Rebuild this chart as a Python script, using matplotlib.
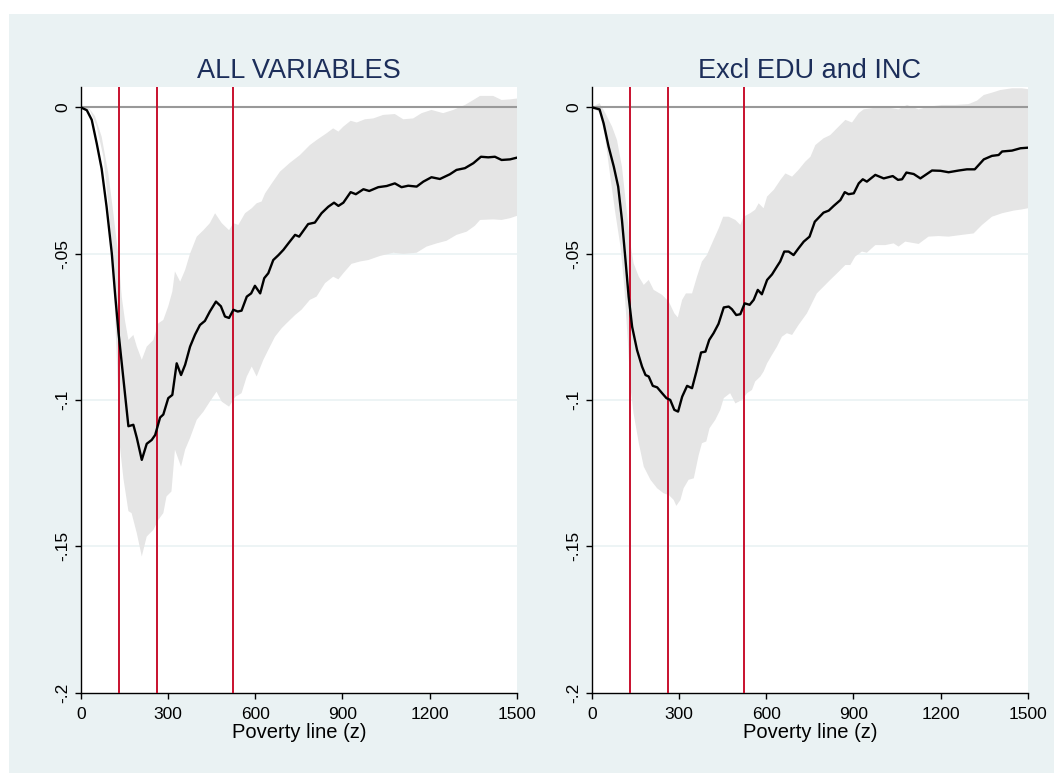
import matplotlib.pyplot as plt
from matplotlib.patches import Rectangle
import numpy as np

plt.rcParams['font.family'] = ['Liberation Sans', 'DejaVu Sans']

# poverty lines marked in red
zlines = [131, 262, 524]

# ---- panel 1: ALL VARIABLES ----
a_x = [0, 21, 38, 55, 72, 89, 107, 118, 130, 147, 164, 181, 193, 210, 227, 244, 256, 273, 284,
       301, 315, 330, 345, 359, 376, 393, 410, 427, 444, 465, 482, 496, 510, 525, 540, 553, 571,
       586, 599, 617, 631, 645, 662, 680, 697, 714, 737, 751, 782, 805, 828, 851, 871, 886, 903,
       928, 946, 972, 992, 1023, 1052, 1080, 1103, 1126, 1155, 1178, 1206, 1235, 1269, 1292,
       1321, 1350, 1376, 1401, 1424, 1447, 1476, 1500]
a_y = [0, -0.001, -0.0043, -0.0123, -0.021, -0.034, -0.050, -0.0636, -0.077, -0.093, -0.109,
       -0.1085, -0.113, -0.1205, -0.115, -0.1137, -0.112, -0.106, -0.105, -0.0994, -0.0983,
       -0.0875, -0.0915, -0.088, -0.0818, -0.0777, -0.0744, -0.073, -0.0698, -0.0664, -0.068,
       -0.0715, -0.072, -0.0692, -0.0698, -0.0695, -0.0647, -0.0636, -0.061, -0.0636, -0.0584,
       -0.0567, -0.0522, -0.0505, -0.0487, -0.0465, -0.0436, -0.0442, -0.0399, -0.0394, -0.0362,
       -0.034, -0.0326, -0.0337, -0.0326, -0.029, -0.0297, -0.028, -0.0286, -0.0273, -0.0269,
       -0.026, -0.0273, -0.0268, -0.0271, -0.0254, -0.0239, -0.0245, -0.0229, -0.0214, -0.0208,
       -0.0191, -0.0169, -0.0171, -0.0169, -0.018, -0.0178, -0.0172]
a_up_x = [0, 26, 49, 72, 95, 112, 130, 141, 152, 164, 181, 193, 210, 227, 250, 267, 284, 301,
          315, 324, 342, 359, 376, 399, 422, 444, 462, 485, 510, 525, 542, 565, 588, 605, 622,
          634, 657, 685, 719, 754, 788, 811, 845, 868, 886, 903, 928, 949, 977, 1006, 1040, 1080,
          1109, 1143, 1172, 1206, 1246, 1281, 1321, 1350, 1373, 1418, 1447, 1476, 1500]
a_up_y = [0, 0, -0.003, -0.010, -0.0226, -0.036, -0.051, -0.0647, -0.0727, -0.0795, -0.0778,
          -0.0818, -0.0863, -0.0818, -0.0795, -0.0738, -0.0727, -0.068, -0.063, -0.0561,
          -0.0596, -0.0556, -0.050, -0.0442, -0.042, -0.0396, -0.0362, -0.0396, -0.042,
          -0.0396, -0.0402, -0.0362, -0.0345, -0.0328, -0.0322, -0.0294, -0.026, -0.022,
          -0.019, -0.0163, -0.0129, -0.0112, -0.0089, -0.0072, -0.0083, -0.0066, -0.0046,
          -0.0052, -0.0041, -0.0038, -0.0026, -0.0023, -0.0041, -0.0038, -0.002, -0.0009,
          -0.002, -0.0009, 0.0008, 0.0025, 0.0039, 0.0039, 0.0025, 0.0027, 0.003]
a_lo_x = [0, 32, 55, 78, 95, 109, 118, 127, 135, 147, 164, 175, 193, 210, 227, 250, 267, 284,
          295, 312, 324, 345, 359, 376, 399, 422, 444, 467, 485, 510, 532, 553, 571, 588, 605,
          628, 645, 668, 691, 708, 737, 759, 788, 811, 840, 868, 886, 903, 931, 960, 989, 1029,
          1075, 1109, 1155, 1189, 1224, 1258, 1292, 1327, 1355, 1373, 1418, 1447, 1476, 1500]
a_lo_y = [0, -0.001, -0.0066, -0.0169, -0.0328, -0.0499, -0.0704, -0.093, -0.116, -0.127,
          -0.138, -0.1387, -0.1456, -0.1535, -0.1467, -0.1444, -0.141, -0.1387, -0.133,
          -0.1313, -0.117, -0.1228, -0.117, -0.113, -0.1068, -0.104, -0.1006, -0.0972,
          -0.1006, -0.1023, -0.0989, -0.0977, -0.092, -0.0886, -0.092, -0.0863, -0.0829,
          -0.0784, -0.0755, -0.0738, -0.071, -0.0692, -0.0658, -0.0647, -0.0601, -0.0579,
          -0.0588, -0.0567, -0.0535, -0.0527, -0.0522, -0.0508, -0.0497, -0.0501, -0.0497,
          -0.0476, -0.0465, -0.0456, -0.0436, -0.0425, -0.0405, -0.0385, -0.0383, -0.0385,
          -0.0379, -0.0371]

# ---- panel 2: Excl EDU and INC ----
b_x = [0, 27, 41, 58, 76, 91, 104, 116, 127, 139, 156, 173, 185, 196, 210, 225, 242, 257, 270,
       284, 297, 311, 328, 345, 360, 376, 391, 404, 419, 436, 454, 471, 482, 497, 511, 526, 543,
       557, 571, 585, 603, 620, 637, 648, 662, 677, 694, 711, 729, 749, 767, 797, 815, 832, 855,
       870, 883, 901, 918, 932, 946, 975, 1004, 1035, 1053, 1067, 1082, 1107, 1130, 1170, 1199,
       1227, 1262, 1290, 1317, 1348, 1376, 1399, 1411, 1445, 1474, 1500]
b_y = [0, -0.0007, -0.0055, -0.0134, -0.0203, -0.0271, -0.0385, -0.052, -0.0647, -0.075, -0.083,
       -0.0886, -0.0915, -0.092, -0.0952, -0.0957, -0.0977, -0.0994, -0.1, -0.1034, -0.104,
       -0.0989, -0.0952, -0.096, -0.0903, -0.0838, -0.0835, -0.0795, -0.0772, -0.074, -0.0684,
       -0.0681, -0.069, -0.071, -0.0707, -0.067, -0.0675, -0.0658, -0.0624, -0.0639, -0.059,
       -0.0571, -0.0544, -0.0527, -0.0493, -0.0493, -0.0505, -0.0482, -0.0459, -0.0442, -0.0391,
       -0.036, -0.0353, -0.0337, -0.0317, -0.029, -0.0297, -0.0294, -0.026, -0.0246, -0.0254,
       -0.0231, -0.0243, -0.0235, -0.0248, -0.0246, -0.0223, -0.0228, -0.0243, -0.0216,
       -0.0217, -0.0222, -0.0216, -0.0212, -0.0212, -0.0178, -0.0166, -0.0163, -0.0151,
       -0.0148, -0.014, -0.0138]
b_up_x = [0, 27, 47, 70, 87, 104, 119, 131, 144, 162, 179, 196, 213, 242, 265, 284, 296, 311,
          324, 345, 362, 379, 396, 419, 437, 452, 471, 494, 511, 522, 545, 562, 574, 591, 603,
          626, 649, 666, 689, 711, 734, 752, 769, 797, 820, 849, 872, 895, 918, 935, 964, 998,
          1032, 1055, 1084, 1124, 1158, 1204, 1250, 1296, 1325, 1348, 1376, 1405, 1445, 1479, 1500]
b_up_y = [0, 0.0014, -0.002, -0.0066, -0.0112, -0.0203, -0.034, -0.0453, -0.0533, -0.0579,
          -0.0607, -0.059, -0.0624, -0.0641, -0.0664, -0.0704, -0.0718, -0.0658, -0.0636,
          -0.0636, -0.0579, -0.0527, -0.0505, -0.0453, -0.0413, -0.0374, -0.0374, -0.0385,
          -0.0402, -0.0374, -0.0362, -0.035, -0.0328, -0.0345, -0.0305, -0.0282, -0.0248,
          -0.0226, -0.0237, -0.0214, -0.0186, -0.0169, -0.0129, -0.0106, -0.0095, -0.0066,
          -0.0043, -0.0052, -0.002, -0.0007, -0.0003, 0.0002, -0.0003, -0.0007, 0.0008,
          -0.0007, 0.0002, 0.0008, 0.0008, 0.0011, 0.0023, 0.0042, 0.005, 0.0059, 0.0065,
          0.0065, 0.0062]
b_lo_x = [0, 30, 47, 64, 81, 99, 112, 124, 133, 144, 162, 179, 202, 225, 247, 265, 282, 291,
          305, 316, 333, 351, 368, 379, 394, 405, 425, 442, 454, 476, 494, 517, 534, 551, 562,
          580, 591, 603, 620, 637, 654, 671, 689, 711, 740, 757, 774, 797, 820, 849, 872, 889,
          906, 929, 946, 975, 1009, 1038, 1055, 1078, 1124, 1158, 1193, 1227, 1273, 1313, 1342,
          1376, 1411, 1451, 1479, 1500]
b_lo_y = [0, -0.002, -0.011, -0.0237, -0.036, -0.0476, -0.0613, -0.0795, -0.0955, -0.1046,
          -0.1148, -0.1228, -0.1273, -0.1302, -0.1319, -0.1325, -0.1342, -0.1362, -0.1342,
          -0.1302, -0.1273, -0.1268, -0.1188, -0.1148, -0.1142, -0.1097, -0.1068, -0.1034,
          -0.0994, -0.0977, -0.1012, -0.1, -0.0977, -0.0966, -0.0937, -0.092, -0.0903,
          -0.0875, -0.0846, -0.0818, -0.0784, -0.0772, -0.0778, -0.0744, -0.0704, -0.067,
          -0.0636, -0.0613, -0.059, -0.0562, -0.0539, -0.0539, -0.051, -0.0493, -0.0497,
          -0.0471, -0.0471, -0.0465, -0.0476, -0.0459, -0.0467, -0.0442, -0.044, -0.0442,
          -0.0436, -0.0431, -0.0402, -0.0374, -0.0362, -0.0353, -0.0349, -0.0345]

panels = [
    ("ALL VARIABLES", a_x, a_y, a_up_x, a_up_y, a_lo_x, a_lo_y),
    ("Excl EDU and INC", b_x, b_y, b_up_x, b_up_y, b_lo_x, b_lo_y),
]

bg = '#eaf2f3'
fig = plt.figure(figsize=(10.54, 7.73), dpi=100)
fig.patches.append(Rectangle((9 / 1054, 0), 1, 1 - 14 / 773, transform=fig.transFigure,
                             facecolor=bg, edgecolor='none', zorder=-10))

lefts = [80.7 / 1054, 591.7 / 1054]
for left, (title, x, y, ux, uy, lx, ly) in zip(lefts, panels):
    ax = fig.add_axes([left, 1 - 692.5 / 773, 436.3 / 1054, (692.5 - 86.7) / 773])
    ax.set_facecolor('white')
    # confidence band
    ax.fill(np.r_[ux, lx[::-1]], np.r_[uy, ly[::-1]], color='#e5e5e5', lw=0, zorder=1)
    for yy in [-0.05, -0.1, -0.15]:
        ax.axhline(yy, color=bg, lw=1.2, zorder=0.5)
    ax.axhline(0, color='#999999', lw=1.5, zorder=2)
    for z in zlines:
        ax.axvline(z, color='#c8102e', lw=1.4, zorder=3)
    ax.plot(x, y, color='black', lw=1.7, zorder=4)
    ax.set_xlim(0, 1500)
    ax.set_ylim(-0.2, 0.00704)
    ax.set_xticks([0, 300, 600, 900, 1200, 1500])
    ax.set_yticks([0, -0.05, -0.1, -0.15, -0.2])
    ax.set_yticklabels(['0', '-.05', '-.1', '-.15', '-.2'], rotation=90, va='center')
    ax.tick_params(axis='both', length=4.3, width=1, labelsize=12.5, colors='black')
    ax.tick_params(axis='y', pad=3)
    ax.tick_params(axis='x', pad=6)
    for s in ['top', 'right']:
        ax.spines[s].set_visible(False)
    for s in ['left', 'bottom']:
        ax.spines[s].set_linewidth(1)
    ax.set_xlabel('Poverty line (z)', fontsize=14.5, labelpad=1)
    ax.set_title(title, fontsize=19.5, color='#1c2e5a', pad=6)

fig.savefig('out.png', dpi=100)
